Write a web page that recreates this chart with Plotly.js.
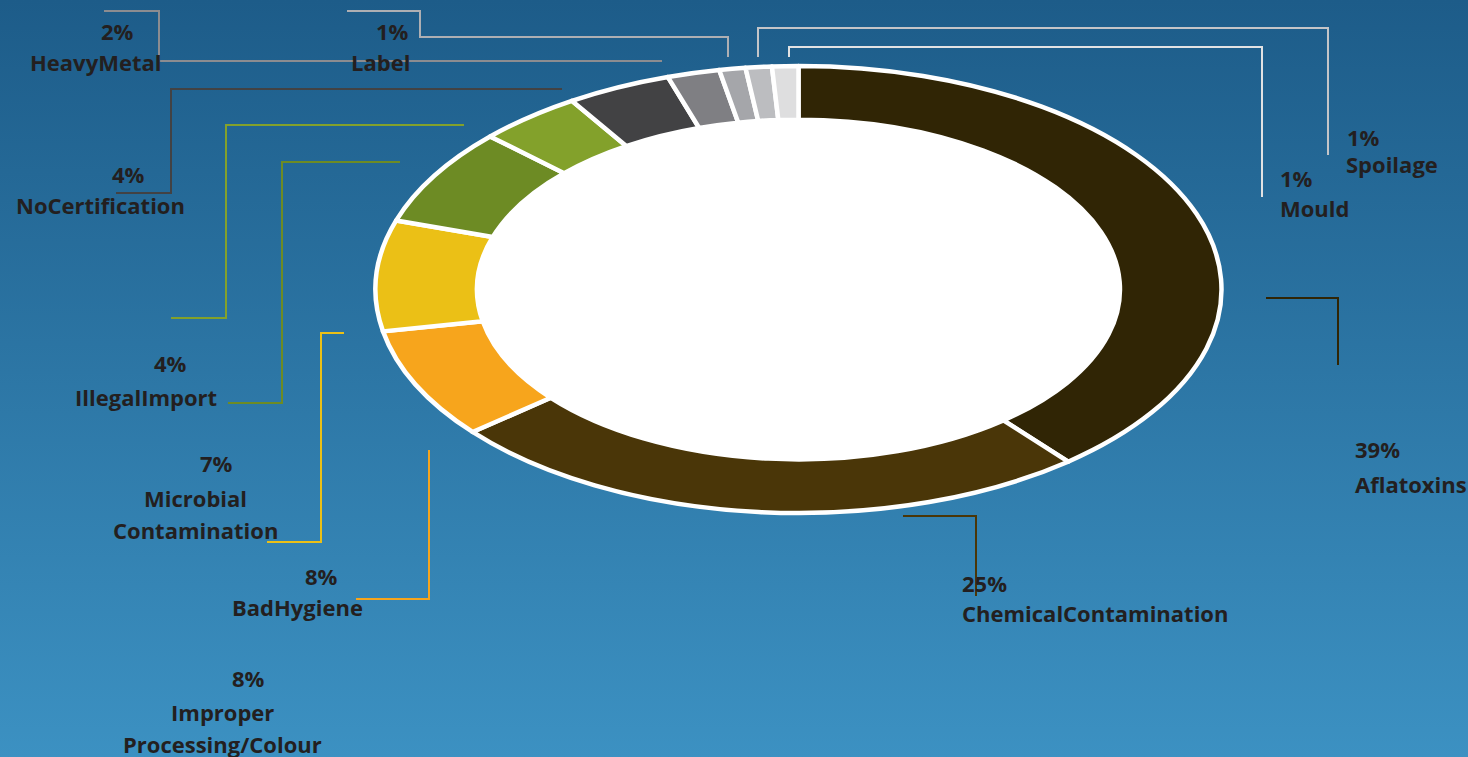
<!DOCTYPE html>
<html><head><meta charset="utf-8">
<script src="https://cdn.plot.ly/plotly-3.0.1.min.js"></script>
<style>
html,body{margin:0;padding:0;}
body{width:1468px;height:757px;overflow:hidden;background:linear-gradient(to bottom,#1d5c89 0%,#3c91c2 100%);}
#chart{width:1468px;height:757px;}
</style></head><body><div id="chart"></div>
<script>
// ---- data ----
const labels = ['Aflatoxins','ChemicalContamination','Improper Processing/Colour','BadHygiene','Microbial Contamination','IllegalImport','NoCertification','HeavyMetal','Label','Mould','Spoilage'];
const values = [39,25,8,8,7,4,4,2,1,1,1];
const colors = ['#302505','#4a3608','#f7a51c','#ebc016','#6d8b24','#83a12b','#424244','#7f7f83','#a5a6aa','#bcbdc0','#dededf'];

// ---- layout helpers (pixels) ----
const W = 1468, H = 757;
const CX = 798.5, CY = 289.5, RX = 423, RY = 223.5, HOLE = 0.76;
const px = x => x / W, py = y => 1 - y / H;

// label placement: [anchor, pct x, pct y, name x, name y]
const labelPos = [
  ['left', 1353, 449, 1353, 484],
  ['left', 960, 583, 960, 613],
  ['center', 248, 678, 222, 712],
  ['center', 321, 576, 297, 607],
  ['center', 216, 463, 195, 498],
  ['center', 170, 363, 146, 397],
  ['center', 128, 174, 100, 205],
  ['center', 117, 31, 95, 62],
  ['center', 392, 31, 380, 62],
  ['left', 1278, 178, 1278, 208],
  ['left', 1345, 137, 1344, 164]
];
const leaders = [
  ['#302505', [[1266,298],[1338,298],[1338,365]]],
  ['#4a3608', [[903,516],[976,516],[976,596]]],
  ['#f7a51c', [[429,450],[429,599],[356,599]]],
  ['#ebc016', [[344,333],[321,333],[321,542],[267,542]]],
  ['#6d8b24', [[400,162],[282,162],[282,403],[228,403]]],
  ['#83a12b', [[464,125],[226,125],[226,318],[171,318]]],
  ['#424244', [[562,89],[171,89],[171,193],[116,193]]],
  ['#8c8c90', [[662,61],[159,61],[159,11],[104,11]]],
  ['#aeafb3', [[728,57],[728,37],[420,37],[420,11],[347,11]]],
  ['#c4c5c8', [[758,57],[758,28],[1328,28],[1328,155]]],
  ['#e2e2e3', [[789,57],[789,47],[1262,47],[1262,197]]]
];

const total = values.reduce((a,b)=>a+b,0);
const font = {family:'"Open Sans", "Noto Sans", sans-serif', size:22, color:'#231f20', weight:700};
const annotations = [];
labels.forEach((lab,i)=>{
  const [anc, pxp, pyp, nx, ny] = labelPos[i];
  const pct = Math.round(values[i]/total*100) + '%';
  annotations.push({text:pct, x:px(pxp), y:py(pyp), xref:'paper', yref:'paper', xanchor:anc, yanchor:'middle', showarrow:false, font});
  lab.split(' ').forEach((ln,k)=>{
    annotations.push({text:ln, x:px(nx), y:py(ny + k*32), xref:'paper', yref:'paper', xanchor:anc, yanchor:'middle', showarrow:false, font});
  });
});

const shapes = leaders.map(([c,pts])=>({
  type:'path', xref:'paper', yref:'paper', layer:'above',
  path: pts.map((p,k)=>(k?'L':'M')+px(p[0])+','+py(p[1])).join(' '),
  line:{color:c, width:2}
}));
// white hole behind the ring
shapes.push({type:'circle', xref:'paper', yref:'paper', layer:'below',
  x0:px(CX-RX*HOLE-4), x1:px(CX+RX*HOLE+4), y0:py(CY+RY*HOLE+4), y1:py(CY-RY*HOLE-4),
  fillcolor:'#ffffff', line:{width:0}});

const dom = {x:[px(CX)-0.2, px(CX)+0.2], y:[py(CY)-RY/H, py(CY)+RY/H]};
const data = [{
  type:'pie', labels, values, sort:false, direction:'clockwise', rotation:0,
  hole:HOLE, marker:{colors, line:{color:'#ffffff', width:4.5}},
  textinfo:'none', hoverinfo:'skip', showlegend:false, domain:dom
}];
const layout = {
  width:W, height:H, margin:{l:0,r:0,t:0,b:0},
  paper_bgcolor:'rgba(0,0,0,0)', plot_bgcolor:'rgba(0,0,0,0)',
  showlegend:false, annotations, shapes
};
const gd = document.getElementById('chart');
Plotly.newPlot(gd, data, layout, {staticPlot:true, displayModeBar:false}).then(()=>{
  const fl = gd._fullLayout;
  const cx = fl._size.l + fl._size.w * (dom.x[0]+dom.x[1])/2;
  const sx = RX / RY;
  const g = gd.querySelector('.pielayer');
  if (g) {
    g.setAttribute('transform', 'translate('+cx+',0) scale('+sx+',1) translate('+(-cx)+',0)');
    g.querySelectorAll('path').forEach(p=>{p.style.vectorEffect='non-scaling-stroke';});
  }
});
</script></body></html>
